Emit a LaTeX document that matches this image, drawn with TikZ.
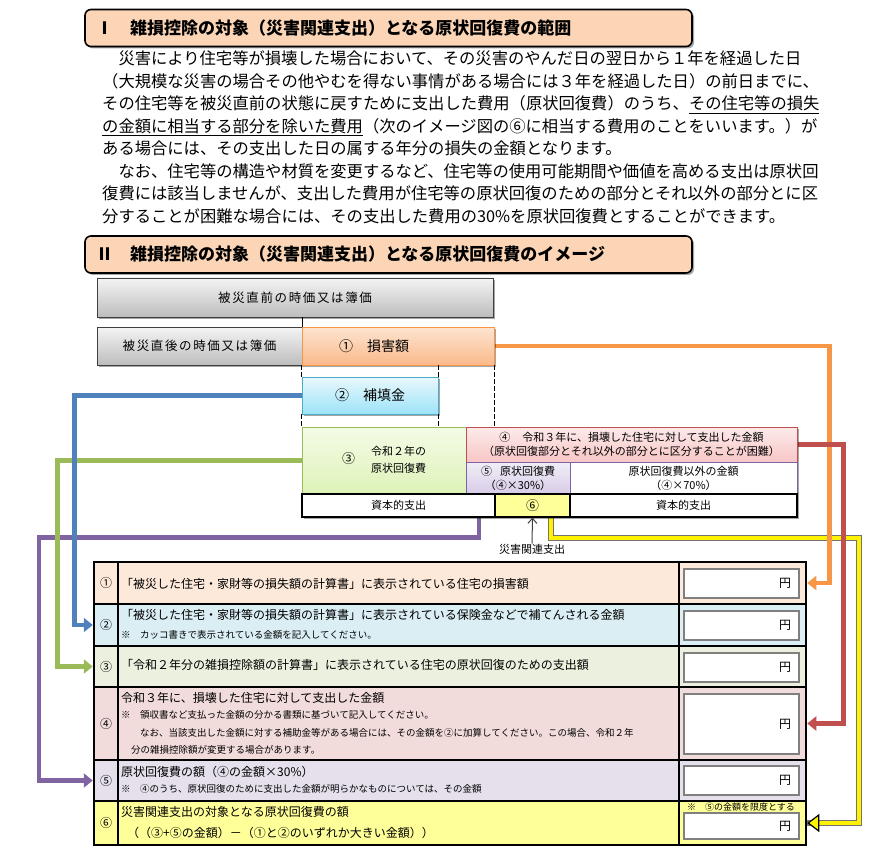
\documentclass[tikz,border=0pt]{standalone}
\usepackage{fontspec}
\setmainfont{Noto Sans CJK JP}
\newfontfamily\jpwide{Noto Sans CJK JP}[LetterSpace=13]
\usetikzlibrary{positioning, calc, arrows.meta, shadows, backgrounds}

\definecolor{hdrfill}{HTML}{FBD5B5}
\definecolor{gbtop}{HTML}{F4F4F4}
\definecolor{gbbot}{HTML}{BDBDBD}
\definecolor{dmgline}{HTML}{F79646}
\definecolor{dmgtop}{HTML}{FDE4D0}
\definecolor{dmgbot}{HTML}{FAB98A}
\definecolor{insline}{HTML}{4BACC6}
\definecolor{instop}{HTML}{E8F8FD}
\definecolor{insbot}{HTML}{9DE3F8}
\definecolor{repline}{HTML}{9BBB59}
\definecolor{reptop}{HTML}{F4FBE6}
\definecolor{repbot}{HTML}{DDF3B8}
\definecolor{expline}{HTML}{C0504D}
\definecolor{exptop}{HTML}{FDEAEA}
\definecolor{expbot}{HTML}{F8C6C6}
\definecolor{origline}{HTML}{8064A2}
\definecolor{origtop}{HTML}{F1EDF7}
\definecolor{origbot}{HTML}{D7CCE7}
\definecolor{relfill}{HTML}{FFFF99}
\definecolor{rowA}{HTML}{FDE9D9}
\definecolor{rowB}{HTML}{DAEEF3}
\definecolor{rowC}{HTML}{EBF1DE}
\definecolor{rowD}{HTML}{F2DCDB}
\definecolor{rowE}{HTML}{E5E0EC}
\definecolor{rowF}{HTML}{FFFF99}
\definecolor{lnblue}{HTML}{4F81BD}
\definecolor{lngreen}{HTML}{9BBB59}
\definecolor{lnpurple}{HTML}{8064A2}
\definecolor{lnred}{HTML}{C0504D}
\definecolor{lnorange}{HTML}{F79646}

\begin{document}
\begin{tikzpicture}[x=1pt, y=-1pt, every node/.style={inner sep=0pt, font=\fontsize{12}{14}\selectfont},
  shade/.style={drop shadow={shadow xshift=2pt, shadow yshift=-2pt, opacity=.35, fill=black}},
  hdr/.style={draw, line width=1.6pt, rounded corners=6pt, fill=hdrfill, shade, minimum width=607pt, minimum height=37pt, text width=585pt, align=left, font=\fontsize{17}{20}\selectfont\bfseries},
  gbox/.style={draw=black!75, line width=.8pt, top color=gbtop, bottom color=gbbot, shade, font=\jpwide\fontsize{12.5}{15}\selectfont},
  cbox/.style={line width=.8pt, shade, align=center, font=\fontsize{11}{14}\selectfont},
  bbox/.style={draw, line width=1.2pt, fill=white, shade, minimum height=23pt, font=\fontsize{11}{13}\selectfont},
  guide/.style={line width=.8pt, dash pattern=on 5pt off 2pt},
  cell/.style={draw, line width=2.5pt},
  amt/.style={draw=black!50, line width=2pt, fill=white, minimum width=115pt, text width=99pt, inner xsep=8pt, align=right},
  rowtxt/.style={anchor=west, font=\fontsize{12}{14}\selectfont},
  rownote/.style={anchor=west, font=\fontsize{9.5}{11}\selectfont},
  conn/.style={line width=4.6pt, -{Triangle[width=14pt,length=9pt]}},
  ylwout/.style={line width=6pt, draw=black!55},
  ylwin/.style={line width=4pt, draw=yellow, -{Triangle[width=18pt,length=12pt,line width=1.2pt,color=black,fill=yellow]}}]
\useasboundingbox (0,0) rectangle (885,858);

% headings and text
\node[hdr] (hdrA) at (388.5,28) {Ⅰ\hspace{1em}雑損控除の対象（災害関連支出）となる原状回復費の範囲};
\node[anchor=north west, text width=720pt, align=left, font=\fontsize{16.3}{22.5}\selectfont] (body) at (102,51)
  {　災害により住宅等が損壊した場合において、その災害のやんだ日の翌日から１年を経過した日\\
   （大規模な災害の場合その他やむを得ない事情がある場合には３年を経過した日）の前日までに、\\
   その住宅等を被災直前の状態に戻すために支出した費用（原状回復費）のうち、\underline{その住宅等の損失}\\
   \underline{の金額に相当する部分を除いた費用}（次のイメージ図の⑥に相当する費用のことをいいます。）が\\
   ある場合には、その支出した日の属する年分の損失の金額となります。\\
   　なお、住宅等の構造や材質を変更するなど、住宅等の使用可能期間や価値を高める支出は原状回\\
   復費には該当しませんが、支出した費用が住宅等の原状回復のための部分とそれ以外の部分とに区\\
   分することが困難な場合には、その支出した費用の30\%を原状回復費とすることができます。};
\node[hdr] (hdrB) at (388.5,254.5) {Ⅱ\hspace{1em}雑損控除の対象（災害関連支出）となる原状回復費のイメージ};

% image diagram
\node[gbox, minimum width=396pt, minimum height=39pt] (pre) at (295,297.5) {被災直前の時価又は簿価};
\node[gbox, minimum width=205pt, minimum height=38pt] (post) at (199.5,346) {被災直後の時価又は簿価};
\node[cbox, draw=dmgline, top color=dmgtop, bottom color=dmgbot, minimum width=192pt, minimum height=38pt, font=\fontsize{14}{16}\selectfont] (dmg) at (398,346) {①\hspace{14pt}損害額\hspace{48pt}};
\node[cbox, draw=insline, top color=instop, bottom color=insbot, minimum width=136pt, minimum height=37pt, font=\fontsize{14}{16}\selectfont] (ins) at (370,395.5) {②\hspace{14pt}補填金};
\node[cbox, draw=repline, top color=reptop, bottom color=repbot, minimum width=164pt, minimum height=67pt] (rep) at (384,460.5)
  {{\fontsize{13}{15}\selectfont ③}\hspace{16pt}{\fontsize{11}{17}\selectfont\begin{tabular}{@{}c@{}}令和２年の\\原状回復費\end{tabular}}};
\node[cbox, draw=expline, top color=exptop, bottom color=expbot, minimum width=331pt, minimum height=35pt] (exp) at (631.5,444.5)
  {④\hspace{12pt}令和３年に、損壊した住宅に対して支出した金額\hspace{40pt}\\（原状回復部分とそれ以外の部分とに区分することが困難）};
\node[cbox, draw=origline, top color=origtop, bottom color=origbot, minimum width=104pt, minimum height=32pt] (orig) at (518,478) {⑤\hspace{8pt}原状回復費\\（④×30\%）};
\node[cbox, draw=origline, fill=white, minimum width=227pt, minimum height=32pt] (other) at (683.5,478) {原状回復費以外の金額\\（④×70\%）};
\node[bbox, minimum width=193pt] (capL) at (398.5,505.5) {資本的支出};
\node[bbox, fill=relfill, minimum width=75pt, font=\fontsize{13}{15}\selectfont] (rel) at (532.5,505.5) {⑥};
\node[bbox, minimum width=227pt] (capR) at (683.5,505.5) {資本的支出};
\node[font=\fontsize{11}{13}\selectfont] (rlab) at (532,549) {災害関連支出};
\draw[-{Straight Barb[length=5pt,width=9pt]}, line width=1pt, black!75] (rlab.north) -- (rel.south);

\draw[line width=.8pt] (pre.south -| post.east) -- (post.north east);
\draw[guide] (dmg.south west) -- (ins.north west);
\draw[guide] (ins.south west) -- (rep.north west);
\draw[guide] (dmg.south -| ins.east) -- (ins.north east);
\draw[guide] (ins.south east) -- (rep.north -| ins.east);
\draw[guide] (dmg.south east) -- (exp.north -| dmg.east);

% table
\foreach \t/\b/\c/\n [count=\i] in {562/604/rowA/①, 604/646/rowB/②, 646/687/rowC/③, 687/760/rowD/④, 760/801/rowE/⑤, 801/845/rowF/⑥}{
  \node[cell, fill=\c, minimum width=24pt, minimum height={\b pt-\t pt}] (n\i) at (106,{(\t+\b)/2}) {\n};
  \node[cell, fill=\c, minimum width=561pt, minimum height={\b pt-\t pt}] (t\i) at (398.5,{(\t+\b)/2}) {};
  \node[cell, fill=\c, minimum width=127pt, minimum height={\b pt-\t pt}] (a\i) at (742.5,{(\t+\b)/2}) {};
}
\foreach \i/\y/\h in {1/583.5/29, 2/625.5/29, 3/667.5/29, 4/724/60, 5/780.5/29, 6/826/26}
  \node[amt, minimum height=\h pt] (b\i) at (741.5,\y) {円};

\node[rowtxt] (q1) at (121,584) {「被災した住宅・家財等の損失額の計算書」に表示されている住宅の損害額};
\node[rowtxt] (q2) at (121,615) {「被災した住宅・家財等の損失額の計算書」に表示されている保険金などで補てんされる金額};
\node[rownote] (m2) at (121,635) {※\quad カッコ書きで表示されている金額を記入してください。};
\node[rowtxt] (q3) at (121,665) {「令和２年分の雑損控除額の計算書」に表示されている住宅の原状回復のための支出額};
\node[rowtxt] (q4) at (121,698) {令和３年に、損壊した住宅に対して支出した金額};
\node[rownote] (m4a) at (121,715) {※\quad 領収書など支払った金額の分かる書類に基づいて記入してください。};
\node[rownote] (m4b) at (140,733) {なお、当該支出した金額に対する補助金等がある場合には、その金額を②に加算してください。この場合、令和２年};
\node[rownote] (m4c) at (131,750) {分の雑損控除額が変更する場合があります。};
\node[rowtxt] (q5) at (121,772) {原状回復費の額（④の金額×30\%）};
\node[rownote] (m5) at (121,789) {※\quad ④のうち、原状回復のために支出した金額が明らかなものについては、その金額};
\node[rowtxt] (q6) at (121,812) {災害関連支出の対象となる原状回復費の額};
\node[rowtxt] (q6b) at (127,833) {（（③+⑤の金額）－（①と②のいずれか大きい金額））};
\node[font=\fontsize{9}{10}\selectfont] (lim) at (741,807) {※\quad ⑤の金額を限度とする};

% connectors
\begin{scope}[on background layer]
\draw[ylwout] ([xshift=18pt]rel.south) |- ++(308,20) |- (a6.east);
\draw[ylwin] ([xshift=18pt]rel.south) |- ++(308,20) |- (a6.east);
\draw[conn, lnorange] (dmg.east) -- ++(335,0) |- (a1.east);
\draw[conn, lnred] (exp.east) -- ++(46,0) |- (a4.east);
\draw[conn, lnpurple] ([xshift=-39pt]orig.south) |- ++(-440,43) |- (n5.west);
\draw[conn, lngreen] (rep.west) -- ++(-244,0) |- (n3.west);
\draw[conn, lnblue] (ins.west) -- ++(-227,0) |- (n2.west);
\end{scope}
\end{tikzpicture}
\end{document}
